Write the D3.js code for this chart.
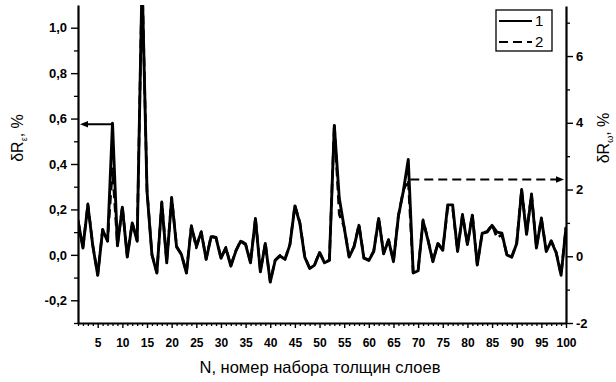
<!DOCTYPE html>
<html>
<head>
<meta charset="utf-8">
<script src="https://cdn.jsdelivr.net/npm/d3@7"></script>
<style>
  body { margin: 0; background: #fff; }
  svg text { font-family: "Liberation Sans", Arial, sans-serif; fill: #000; }
</style>
</head>
<body>
<svg id="chart" width="616" height="382"></svg>
<script>
// Set number N (1..100)
const setNumbers = d3.range(1, 101);

// Curve 1: δR_ε, % (left axis)
const deltaRe = [
  0.15, 0.03, 0.22, 0.04, -0.09, 0.11, 0.06, 0.58, 0.04, 0.21,
  -0.01, 0.14, 0.06, 1.22, 0.28, 0.00, -0.08, 0.23, -0.035, 0.25,
  0.035, 0.00, -0.08, 0.125, 0.04, 0.10, -0.02, 0.08, 0.075, -0.015,
  0.03, -0.05, 0.015, 0.06, 0.045, -0.035, 0.16, -0.075, 0.05, -0.12,
  -0.025, -0.005, -0.02, 0.045, 0.215, 0.14, -0.01, -0.06, -0.045, 0.01,
  -0.035, -0.025, 0.57, 0.25, 0.12, -0.01, 0.035, 0.13, -0.015, -0.025,
  0.015, 0.16, 0.005, 0.065, -0.03, 0.17, 0.28, 0.42, -0.08, -0.07,
  0.15, 0.065, -0.03, 0.05, 0.02, 0.22, 0.22, 0.015, 0.175, 0.045,
  0.175, -0.045, 0.095, 0.10, 0.13, 0.10, 0.095, 0.00, -0.01, 0.05,
  0.285, 0.09, 0.265, 0.03, 0.16, 0.015, 0.06, 0.01, -0.09, 0.12
];

// Curve 2: δR_ω, % (right axis)
const deltaRw = [
  1.09, 0.27, 1.57, 0.33, -0.56, 0.81, 0.47, 2.62, 0.33, 1.50,
  -0.01, 1.02, 0.47, 8.40, 1.98, 0.06, -0.49, 1.63, -0.18, 1.77,
  0.30, 0.06, -0.49, 0.92, 0.25, 0.74, -0.08, 0.61, 0.57, -0.04,
  0.27, -0.28, 0.16, 0.47, 0.37, -0.18, 1.15, -0.45, 0.40, -0.76,
  -0.11, 0.03, -0.08, 0.37, 1.53, 1.02, -0.01, -0.35, -0.25, 0.13,
  -0.18, -0.11, 3.96, 1.25, 0.88, -0.01, 0.30, 0.95, -0.04, -0.11,
  0.16, 1.15, 0.09, 0.50, -0.15, 1.22, 1.98, 2.29, -0.49, -0.42,
  1.09, 0.50, -0.15, 0.40, 0.20, 1.45, 1.45, 0.16, 1.26, 0.37,
  1.26, -0.25, 0.71, 0.74, 0.95, 0.55, 0.65, 0.06, -0.01, 0.40,
  2.01, 0.68, 1.87, 0.27, 1.15, 0.16, 0.47, 0.13, -0.56, 0.88
];

const xTickValues = [5, 10, 15, 20, 25, 30, 35, 40, 45, 50, 55, 60, 65, 70, 75, 80, 85, 90, 95, 100];
const leftTickValues = [-0.2, 0.0, 0.2, 0.4, 0.6, 0.8, 1.0];
const rightTickValues = [-2, 0, 2, 4, 6];
const legendLabels = ["1", "2"];

// Arrow annotations: which curve's peak points to which axis
const leftArrow = { fromN: 8, value: 0.575 };
const rightArrow = { fromN: 68, value: 2.3 };

const svg = d3.select("#chart");
const plotLeft = 78, plotRight = 566, plotTop = 5, plotBottom = 323;

const x = d3.scaleLinear().domain([1, 100]).range([plotLeft, plotRight]);
const yL = d3.scaleLinear().domain([-0.3, 1.1]).range([plotBottom, plotTop]);
const yR = d3.scaleLinear().domain([-2, 7.5]).range([plotBottom, plotTop + 1]);

const commaFmt = d => d3.format(".1f")(d).replace(".", ",").replace("−", "-");

svg.append("defs").append("clipPath").attr("id", "plotClip")
  .append("rect").attr("x", plotLeft).attr("y", plotTop)
  .attr("width", plotRight - plotLeft).attr("height", plotBottom - plotTop);

function styleAxis(g, width) {
  g.select(".domain").attr("stroke", "#000").attr("stroke-width", width);
  g.selectAll(".tick line").attr("stroke", "#000").attr("stroke-width", 1.4);
}

// Bottom axis: minor every 1, major every 5
const xMinor = setNumbers.filter(n => n % 5 !== 0);
svg.append("g").attr("transform", `translate(0,${plotBottom})`)
  .call(d3.axisBottom(x).tickValues(xMinor).tickSize(3).tickSizeOuter(0).tickFormat(""))
  .call(g => g.select(".domain").remove())
  .call(g => g.selectAll(".tick line").attr("stroke", "#000").attr("stroke-width", 1.3));
const gx = svg.append("g").attr("transform", `translate(0,${plotBottom})`)
  .call(d3.axisBottom(x).tickValues(xTickValues).tickSize(5).tickSizeOuter(0).tickPadding(10));
styleAxis(gx, 2.2);
gx.selectAll(".tick text").attr("font-size", 12).attr("font-weight", "bold");

// Left axis
const leftMinor = d3.range(-3, 11).map(v => v / 10)
  .filter(v => !leftTickValues.some(t => Math.abs(t - v) < 1e-6));
svg.append("g").attr("transform", `translate(${plotLeft},0)`)
  .call(d3.axisLeft(yL).tickValues(leftMinor).tickSize(4).tickSizeOuter(0).tickFormat(""))
  .call(g => g.select(".domain").remove())
  .call(g => g.selectAll(".tick line").attr("stroke", "#000").attr("stroke-width", 1.3));
const gl = svg.append("g").attr("transform", `translate(${plotLeft},0)`)
  .call(d3.axisLeft(yL).tickValues(leftTickValues).tickSize(7).tickSizeOuter(0).tickPadding(4).tickFormat(commaFmt));
styleAxis(gl, 2.2);
gl.selectAll(".tick text").attr("font-size", 13).attr("font-weight", "bold");

// Right axis
const rightMinor = d3.range(-2, 8).filter(v => !rightTickValues.includes(v));
svg.append("g").attr("transform", `translate(${plotRight},0)`)
  .call(d3.axisRight(yR).tickValues(rightMinor).tickSize(4).tickSizeOuter(0).tickFormat(""))
  .call(g => g.select(".domain").remove())
  .call(g => g.selectAll(".tick line").attr("stroke", "#000").attr("stroke-width", 1.3));
const gr = svg.append("g").attr("transform", `translate(${plotRight},0)`)
  .call(d3.axisRight(yR).tickValues(rightTickValues).tickSize(7).tickSizeOuter(0).tickPadding(3)
    .tickFormat(d => String(d)));
styleAxis(gr, 2.2);
gr.selectAll(".tick text").attr("font-size", 13).attr("font-weight", "bold");

// Axis titles
svg.append("text").attr("x", (plotLeft + plotRight) / 2 - 2).attr("y", 373)
  .attr("text-anchor", "middle").attr("font-size", 16.5).text("N, номер набора толщин слоев");

const tl = svg.append("text").attr("transform", "translate(23,138) rotate(-90)")
  .attr("text-anchor", "middle").attr("font-size", 16);
tl.append("tspan").text("δR");
tl.append("tspan").attr("font-size", 9).attr("dy", 4).text("ε");
tl.append("tspan").attr("dy", -4).text(", %");

const tr = svg.append("text").attr("transform", "translate(609,138) rotate(-90)")
  .attr("text-anchor", "middle").attr("font-size", 16);
tr.append("tspan").text("δR");
tr.append("tspan").attr("font-size", 9).attr("dy", 4).text("ω");
tr.append("tspan").attr("dy", -4).text(", %");

// Curves
const plot = svg.append("g").attr("clip-path", "url(#plotClip)");
const line2 = d3.line().x((d, i) => x(setNumbers[i])).y(d => yR(d));
const line1 = d3.line().x((d, i) => x(setNumbers[i])).y(d => yL(d));

plot.append("path").datum(deltaRw).attr("d", line2)
  .attr("fill", "none").attr("stroke", "#000").attr("stroke-width", 2.6)
  .attr("stroke-dasharray", "9,5").attr("stroke-linejoin", "round");
plot.append("path").datum(deltaRe).attr("d", line1)
  .attr("fill", "none").attr("stroke", "#000").attr("stroke-width", 2.9)
  .attr("stroke-linejoin", "round");

// Arrows linking peaks to their axes
function arrowHead(tipX, tipY, dir) {
  const len = 8, half = 3.2;
  return `M${tipX},${tipY} L${tipX - dir * len},${tipY - half} L${tipX - dir * len},${tipY + half} Z`;
}
const la = yL(leftArrow.value);
svg.append("line").attr("x1", x(leftArrow.fromN)).attr("x2", plotLeft + 6).attr("y1", la).attr("y2", la)
  .attr("stroke", "#000").attr("stroke-width", 2);
svg.append("path").attr("d", arrowHead(plotLeft + 2, la, -1)).attr("fill", "#000");

const ra = yR(rightArrow.value);
svg.append("line").attr("x1", x(rightArrow.fromN) + 2).attr("x2", plotRight - 6).attr("y1", ra).attr("y2", ra)
  .attr("stroke", "#000").attr("stroke-width", 2).attr("stroke-dasharray", "9,5");
svg.append("path").attr("d", arrowHead(plotRight - 2, ra, 1)).attr("fill", "#000");

// Legend
const lg = svg.append("g");
lg.append("rect").attr("x", 496).attr("y", 10).attr("width", 56).attr("height", 41)
  .attr("fill", "#fff").attr("stroke", "#000").attr("stroke-width", 1.3);
legendLabels.forEach((lab, i) => {
  const yy = 21 + i * 21;
  lg.append("line").attr("x1", 499).attr("x2", 532).attr("y1", yy).attr("y2", yy)
    .attr("stroke", "#000").attr("stroke-width", 2)
    .attr("stroke-dasharray", i === 1 ? "9,5" : null);
  lg.append("text").attr("x", 535).attr("y", yy + 5).attr("font-size", 15).text(lab);
});
</script>
</body>
</html>
